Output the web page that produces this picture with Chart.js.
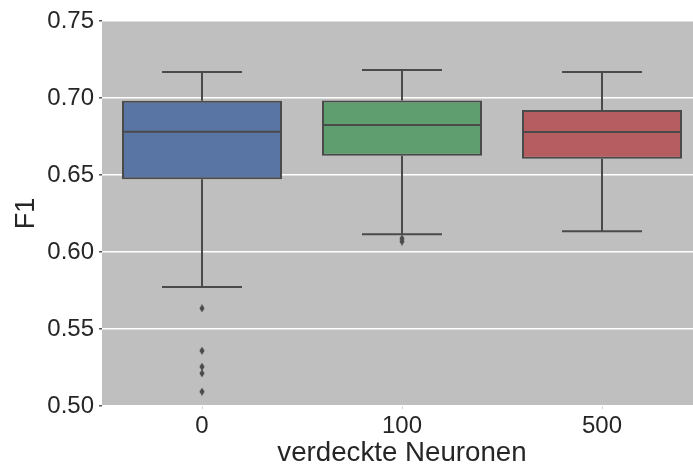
<!DOCTYPE html>
<html>
<head>
<meta charset="utf-8">
<script src="https://cdn.jsdelivr.net/npm/chart.js@4"></script>
<style>
  html, body { margin: 0; padding: 0; background: #fff; overflow: hidden; }
  canvas { display: block; }
</style>
</head>
<body>
<canvas id="chart" width="702" height="470"></canvas>
<script>
// Box plot of F1 per number of hidden neurons
const groups = ['0', '100', '500'];
const whiskerLow = [0.5773, 0.6115, 0.6134];
const q1 = [0.6472, 0.6625, 0.6606];
const median = [0.6781, 0.6825, 0.6779];
const q3 = [0.6982, 0.6983, 0.6922];
const whiskerHigh = [0.7169, 0.7182, 0.7169];
const outliers0 = [0.5634, 0.5359, 0.5255, 0.5212, 0.5093];
const outliers100 = [0.6088, 0.6068];
const outliers500 = [];
const yTicks = [0.50, 0.55, 0.60, 0.65, 0.70, 0.75];

const boxColors = ['#5975a4', '#5f9e6e', '#b55d60'];
const lineColor = '#4a4a4a';
const textColor = '#262626';

// thin diamond marker like matplotlib's 'd'
function diamond() {
  const c = document.createElement('canvas');
  c.width = 6; c.height = 8;
  const g = c.getContext('2d');
  g.fillStyle = lineColor;
  g.beginPath();
  g.moveTo(3, 0); g.lineTo(5.6, 4); g.lineTo(3, 8); g.lineTo(0.4, 4);
  g.closePath();
  g.fill();
  return c;
}

const outlierPoints = [];
[outliers0, outliers100, outliers500].forEach((arr, i) => {
  arr.forEach(v => outlierPoints.push({ x: groups[i], y: v }));
});

const plotBg = {
  id: 'plotBg',
  beforeDraw(chart) {
    const a = chart.chartArea;
    const ctx = chart.ctx;
    ctx.save();
    ctx.fillStyle = '#bfbfbf';
    ctx.fillRect(a.left, a.top, a.right - a.left, a.bottom - a.top);
    ctx.restore();
  }
};

// whiskers, caps and medians, placed through the scales
const boxLines = {
  id: 'boxLines',
  afterDatasetsDraw(chart) {
    const xs = chart.scales.x, ys = chart.scales.y;
    const ctx = chart.ctx;
    const step = xs.getPixelForValue(1) - xs.getPixelForValue(0);
    ctx.save();
    ctx.strokeStyle = lineColor;
    ctx.lineWidth = 2;
    groups.forEach((g, i) => {
      const cx = xs.getPixelForValue(i);
      const cap = step * 0.2, half = step * 0.4;
      const seg = (x1, y1, x2, y2) => {
        ctx.beginPath(); ctx.moveTo(x1, y1); ctx.lineTo(x2, y2); ctx.stroke();
      };
      seg(cx, ys.getPixelForValue(q3[i]), cx, ys.getPixelForValue(whiskerHigh[i]));
      seg(cx, ys.getPixelForValue(q1[i]), cx, ys.getPixelForValue(whiskerLow[i]));
      seg(cx - cap, ys.getPixelForValue(whiskerHigh[i]), cx + cap, ys.getPixelForValue(whiskerHigh[i]));
      seg(cx - cap, ys.getPixelForValue(whiskerLow[i]), cx + cap, ys.getPixelForValue(whiskerLow[i]));
      seg(cx - half, ys.getPixelForValue(median[i]), cx + half, ys.getPixelForValue(median[i]));
    });
    ctx.restore();
  }
};

new Chart(document.getElementById('chart'), {
  type: 'bar',
  data: {
    labels: groups,
    datasets: [
      {
        type: 'line',
        data: outlierPoints,
        showLine: false,
        pointStyle: diamond(),
        pointRadius: 3,
        order: 0
      },
      {
        data: groups.map((g, i) => [q1[i], q3[i]]),
        backgroundColor: boxColors,
        borderColor: lineColor,
        borderWidth: 2,
        borderSkipped: false,
        barPercentage: 0.8,
        categoryPercentage: 1.0,
        order: 1
      }
    ]
  },
  options: {
    responsive: false,
    animation: false,
    layout: { autoPadding: false, padding: { top: 21, right: 0, left: 0, bottom: 0 } },
    plugins: { legend: { display: false }, tooltip: { enabled: false } },
    scales: {
      x: {
        grid: { offset: false, drawOnChartArea: false, drawTicks: true, tickLength: 3, tickColor: '#d0d0d0' },
        border: { display: false },
        ticks: { color: textColor, padding: 3, font: { family: 'Liberation Sans', size: 24 } },
        title: {
          display: true, text: 'verdeckte Neuronen', color: textColor,
          padding: { top: 0, bottom: 0 },
          font: { family: 'Liberation Sans', size: 27.7 }
        },
        afterFit(s) { s.height = 64; }
      },
      y: {
        min: 0.5, max: 0.75,
        afterBuildTicks(s) { s.ticks = yTicks.map(v => ({ value: v })); },
        grid: { color: '#ffffff', lineWidth: 1.5, drawTicks: true, tickLength: 3, tickColor: '#555555' },
        border: { display: false },
        ticks: {
          color: textColor, padding: 5,
          font: { family: 'Liberation Sans', size: 24 },
          callback: v => v.toFixed(2)
        },
        title: {
          display: true, text: 'F1', color: textColor,
          padding: { top: 10, bottom: 0 },
          font: { family: 'Liberation Sans', size: 27 }
        },
        afterFit(s) { s.width = 102; }
      }
    }
  },
  plugins: [plotBg, boxLines]
});
</script>
</body>
</html>
